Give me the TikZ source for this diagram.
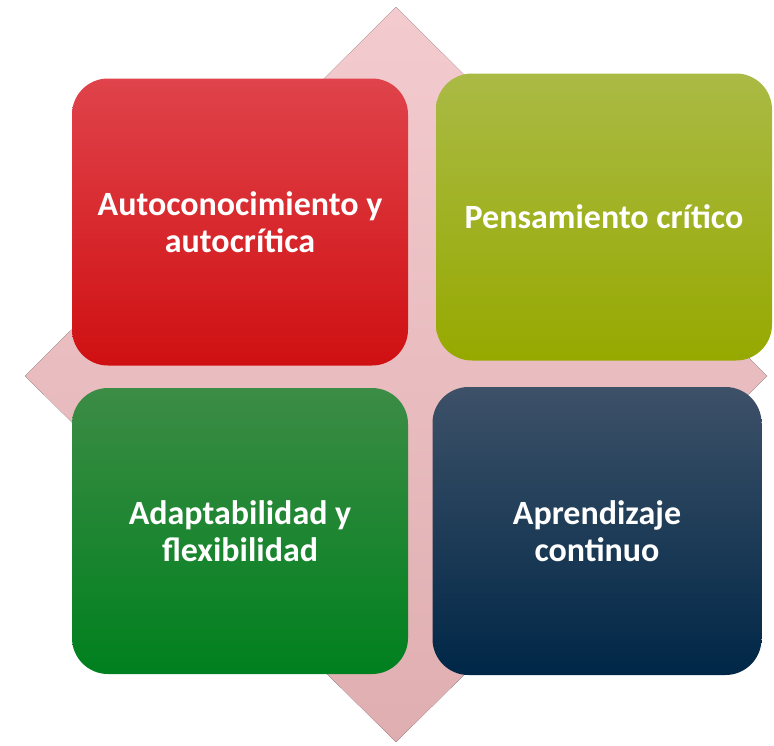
\documentclass[tikz,border=0pt]{standalone}
\usepackage{fontspec}
\setmainfont{Carlito}
\usetikzlibrary{positioning}

\definecolor{rombosup}{HTML}{F3CBCF}
\definecolor{romboinf}{HTML}{DFAEB0}
\definecolor{rojosup}{HTML}{E0434B}
\definecolor{rojoinf}{HTML}{CF1012}
\definecolor{olivosup}{HTML}{AABA45}
\definecolor{olivoinf}{HTML}{96A900}
\definecolor{verdesup}{HTML}{3C8C45}
\definecolor{verdeinf}{HTML}{00801E}
\definecolor{azulsup}{HTML}{3D5168}
\definecolor{azulinf}{HTML}{002747}

\begin{document}
\begin{tikzpicture}[x=1pt, y=-1pt,
    every node/.style={font=\bfseries\fontsize{34}{37}\selectfont, align=center, text=white},
    caja/.style={rounded corners=36pt, inner sep=0pt, minimum width=336pt, minimum height=287pt}]
    \useasboundingbox (0,0) rectangle (774,745);

    % rombo de fondo
    \fill[top color=rombosup, bottom color=romboinf]
        (396,7) -- (767,376) -- (396,742) -- (25,376) -- cycle;

    % cuatro cajas
    \node[caja, top color=rojosup, bottom color=rojoinf] (auto) at (240,222)
        {Autoconocimiento y\\autocrítica};
    \node[caja, top color=olivosup, bottom color=olivoinf] (pens) at (604,217)
        {Pensamiento crítico};
    \node[caja, top color=verdesup, bottom color=verdeinf, minimum height=286pt] (adap) at (240,531)
        {Adaptabilidad y\\flexibilidad};
    \node[caja, top color=azulsup, bottom color=azulinf, minimum width=329pt, minimum height=288pt] (apre) at (597,531)
        {Aprendizaje\\continuo};
\end{tikzpicture}
\end{document}
